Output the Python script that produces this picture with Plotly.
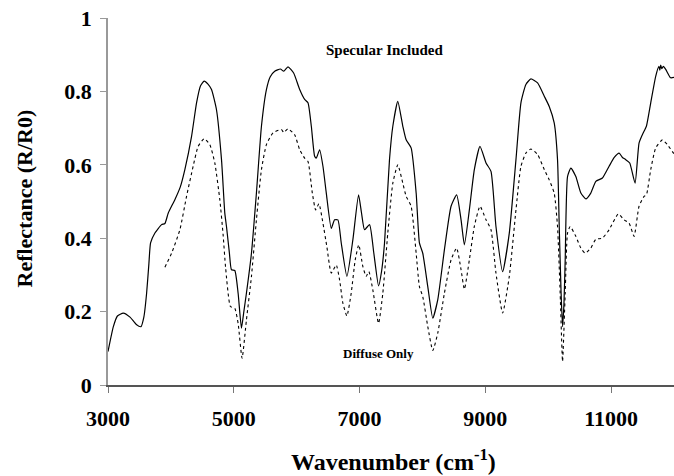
import plotly.graph_objects as go

# Specular Included (upper, solid)
spec_x = [3000, 3085, 3150, 3243, 3350, 3450, 3524, 3570, 3614, 3650, 3677, 3746, 3852, 3905, 3957,
          4063, 4150, 4222, 4328, 4408, 4470, 4529, 4590, 4646, 4725, 4805, 4857, 4884, 4930, 4963,
          5016, 5069, 5122, 5160, 5201, 5281, 5360, 5440, 5519, 5580, 5651, 5741, 5794, 5862, 5952,
          6048, 6127, 6180, 6233, 6286, 6312, 6365, 6418, 6471, 6550, 6603, 6656, 6709, 6799, 6894,
          6984, 7030, 7079, 7159, 7227, 7302, 7350, 7397, 7476, 7529, 7608, 7688, 7741, 7820, 7900,
          7952, 8005, 8085, 8164, 8243, 8349, 8455, 8544, 8614, 8667, 8746, 8825, 8915, 9011, 9090,
          9169, 9275, 9381, 9487, 9566, 9645, 9725, 9831, 9937, 10016, 10095, 10148, 10175, 10205, 10228,
          10250, 10270, 10307, 10360, 10439, 10519, 10598, 10677, 10757, 10862, 10968, 11050, 11127, 11180,
          11233, 11296, 11381, 11444, 11497, 11561, 11630, 11709, 11760, 11775, 11788, 11805, 11830, 11868,
          11947, 12000]
spec_y = [0.091, 0.159, 0.188, 0.196, 0.185, 0.165, 0.159, 0.185, 0.25, 0.33, 0.387, 0.414, 0.437, 0.44, 0.468,
          0.505, 0.54, 0.587, 0.677, 0.769, 0.815, 0.828, 0.82, 0.805, 0.75, 0.614, 0.469, 0.432, 0.36, 0.314,
          0.312, 0.25, 0.155, 0.2, 0.25, 0.359, 0.523, 0.705, 0.805, 0.84, 0.855, 0.861, 0.855, 0.867, 0.85,
          0.805, 0.778, 0.769, 0.705, 0.623, 0.618, 0.641, 0.596, 0.523, 0.427, 0.45, 0.45, 0.387, 0.296, 0.396,
          0.518, 0.47, 0.423, 0.437, 0.359, 0.27, 0.31, 0.387, 0.614, 0.705, 0.773, 0.705, 0.668, 0.646, 0.523,
          0.387, 0.359, 0.268, 0.182, 0.232, 0.368, 0.487, 0.518, 0.45, 0.382, 0.477, 0.587, 0.65, 0.605, 0.582,
          0.432, 0.309, 0.414, 0.614, 0.769, 0.819, 0.834, 0.823, 0.787, 0.759, 0.714, 0.614, 0.432, 0.25, 0.159,
          0.22, 0.341, 0.568, 0.591, 0.568, 0.523, 0.507, 0.523, 0.555, 0.564, 0.596, 0.62, 0.632, 0.62,
          0.614, 0.605, 0.55, 0.659, 0.682, 0.705, 0.769, 0.841, 0.868, 0.858, 0.872, 0.862, 0.868, 0.86,
          0.837, 0.838]

# Diffuse Only (lower)
diff_x = [3905, 4011, 4143, 4249, 4354, 4433, 4529, 4619, 4698, 4778, 4830, 4870, 4947, 5016, 5069,
          5132, 5201, 5281, 5360, 5440, 5519, 5625, 5757, 5794, 5862, 5968, 6048, 6127, 6180, 6249,
          6302, 6354, 6418, 6480, 6550, 6629, 6683, 6735, 6799, 6867, 6931, 6988, 7052, 7105, 7148,
          7211, 7302, 7370, 7449, 7529, 7608, 7688, 7741, 7820, 7900, 7952, 8005, 8085, 8164, 8243,
          8349, 8455, 8544, 8614, 8667, 8746, 8825, 8915, 9011, 9090, 9169, 9275, 9381, 9487, 9566,
          9645, 9725, 9831, 9937, 10016, 10095, 10148, 10190, 10228, 10270, 10307, 10349, 10439, 10519, 10587,
          10677, 10757, 10862, 10968, 11114, 11206, 11286, 11365, 11444, 11524, 11561, 11630, 11709, 11815, 11894,
          11974, 12000]
diff_y = [0.321, 0.359, 0.423, 0.514, 0.596, 0.65, 0.671, 0.655, 0.605, 0.505, 0.41, 0.32, 0.214, 0.209, 0.168,
          0.073, 0.177, 0.296, 0.45, 0.587, 0.655, 0.687, 0.696, 0.688, 0.698, 0.682, 0.641, 0.618, 0.609, 0.523,
          0.477, 0.494, 0.441, 0.377, 0.305, 0.327, 0.286, 0.223, 0.188, 0.25, 0.341, 0.382, 0.323, 0.296, 0.309,
          0.259, 0.168, 0.25, 0.414, 0.55, 0.6, 0.55, 0.514, 0.487, 0.359, 0.268, 0.241, 0.159, 0.094, 0.141,
          0.25, 0.341, 0.373, 0.314, 0.261, 0.341, 0.432, 0.487, 0.45, 0.423, 0.305, 0.196, 0.296, 0.477, 0.596,
          0.632, 0.643, 0.628, 0.587, 0.559, 0.523, 0.432, 0.25, 0.064, 0.25, 0.414, 0.432, 0.405, 0.373, 0.359,
          0.373, 0.397, 0.4, 0.423, 0.466, 0.45, 0.441, 0.405, 0.487, 0.514, 0.518, 0.587, 0.646, 0.668, 0.655,
          0.636, 0.63]

x_ticks = [3000, 5000, 7000, 9000, 11000]
y_ticks = [0, 0.2, 0.4, 0.6, 0.8, 1]
y_tick_text = ["0", "0.2", "0.4", "0.6", "0.8", "1"]

FONT = "Liberation Serif"

fig = go.Figure()
fig.add_trace(go.Scatter(x=spec_x, y=spec_y, mode="lines", name="Specular Included",
                         line=dict(color="black", width=1.2, shape="spline", smoothing=0.5)))
fig.add_trace(go.Scatter(x=diff_x, y=diff_y, mode="lines", name="Diffuse Only",
                         line=dict(color="black", width=1.1, shape="spline", smoothing=0.5, dash="dot")))

fig.add_annotation(x=7397, y=0.914, text="<b>Specular Included</b>", showarrow=False,
                   font=dict(family=FONT, size=15, color="black"))
fig.add_annotation(x=7302, y=0.085, text="<b>Diffuse Only</b>", showarrow=False,
                   font=dict(family=FONT, size=13, color="black"))
# axis titles
fig.add_annotation(xref="paper", yref="paper", x=0.5, xshift=2, y=-0.205, yanchor="middle",
                   text="<b>Wavenumber (cm<sup>-1</sup>)</b>", showarrow=False,
                   font=dict(family=FONT, size=24, color="black"))
fig.add_annotation(xref="paper", yref="paper", x=0, xshift=-84, y=0.5, yshift=3, textangle=-90,
                   xanchor="center", yanchor="middle",
                   text="<b>Reflectance (R/R0)</b>", showarrow=False,
                   font=dict(family=FONT, size=22, color="black"))

fig.update_layout(
    width=674, height=476,
    margin=dict(l=108, r=0, t=18, b=91),
    paper_bgcolor="white", plot_bgcolor="white",
    showlegend=False,
    font=dict(family=FONT, color="black"),
)
fig.update_xaxes(
    range=[3000, 12000], tickvals=x_ticks, ticktext=[str(v) for v in x_ticks],
    showgrid=False, zeroline=False, showline=True, linecolor="#555555", linewidth=1.5,
    ticks="outside", ticklen=6, tickcolor="#777777", tickwidth=1,
    tickfont=dict(family=FONT, size=22, color="black", weight="bold"),
    ticklabelstandoff=7, automargin=False,
)
fig.update_yaxes(
    range=[0, 1], tickvals=y_ticks, ticktext=y_tick_text,
    showgrid=False, zeroline=False, showline=True, linecolor="#999999", linewidth=1.5,
    ticks="outside", ticklen=6, tickcolor="#999999", tickwidth=1,
    tickfont=dict(family=FONT, size=22, color="black", weight="bold"),
    ticklabelstandoff=4, automargin=False,
)

fig.write_html("out.html", config={"displayModeBar": False},
               post_script="document.body.style.margin='0';document.body.style.overflow='hidden';")
